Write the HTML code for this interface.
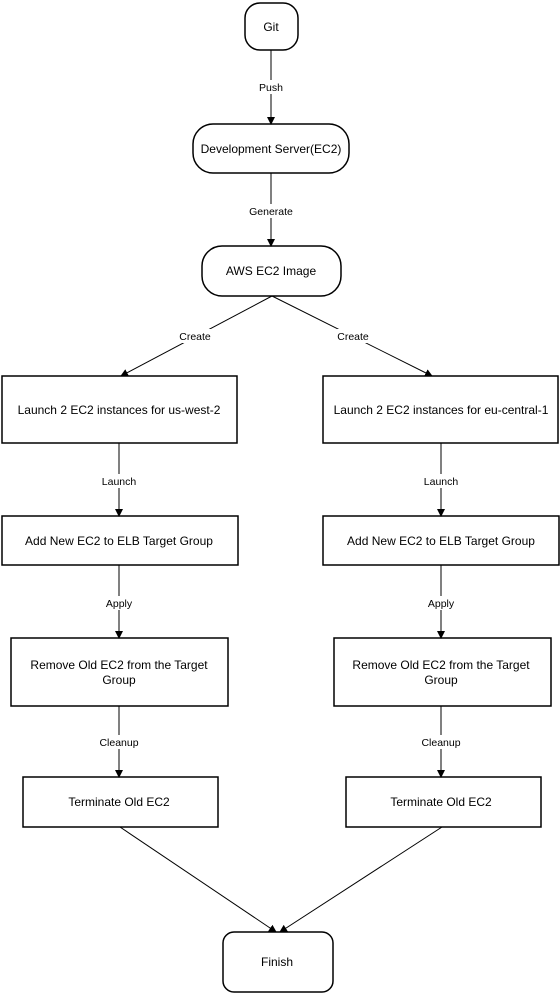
<!DOCTYPE html>
<html><head><meta charset="utf-8"><style>
html,body{margin:0;padding:0;background:#fff;}
svg{display:block;}
text{font-family:"Liberation Sans",Arial,sans-serif;fill:#000;}
.n{font-size:12px;}
.l{font-size:10.5px;}
</style></head><body>
<svg width="560" height="993" viewBox="0 0 560 993" xmlns="http://www.w3.org/2000/svg">
<defs><marker id="a" markerWidth="8" markerHeight="8" refX="7" refY="4" orient="auto" markerUnits="userSpaceOnUse"><path d="M0,0 L8,4 L0,8 z" fill="#000"/></marker></defs>
<g fill="#fff" stroke="#000" stroke-width="1.5">
<rect x="245" y="3" width="53" height="47" rx="15"/>
<rect x="193" y="124" width="156" height="49" rx="20"/>
<rect x="202" y="246" width="139" height="50" rx="20"/>
<rect x="2" y="376" width="235" height="67"/>
<rect x="323" y="376" width="235" height="67"/>
<rect x="2" y="516" width="236" height="49"/>
<rect x="323" y="516" width="236" height="49"/>
<rect x="11" y="638" width="217" height="68"/>
<rect x="334" y="638" width="217" height="68"/>
<rect x="23" y="777" width="195" height="50"/>
<rect x="346" y="777" width="195" height="50"/>
<rect x="223" y="932" width="110" height="60" rx="11"/>
</g>
<g stroke="#000" stroke-width="1" fill="none" marker-end="url(#a)">
<line x1="271" y1="50" x2="271" y2="124"/>
<line x1="271" y1="173" x2="271" y2="246"/>
<line x1="272" y1="296" x2="121" y2="376"/>
<line x1="272" y1="296" x2="432" y2="376"/>
<line x1="119" y1="443" x2="119" y2="516"/>
<line x1="441" y1="443" x2="441" y2="516"/>
<line x1="119" y1="565" x2="119" y2="638"/>
<line x1="441" y1="565" x2="441" y2="638"/>
<line x1="119" y1="706" x2="119" y2="777"/>
<line x1="441" y1="706" x2="441" y2="777"/>
<line x1="120" y1="827" x2="276" y2="932"/>
<line x1="442" y1="827" x2="280" y2="932"/>
</g>
<g fill="#fff">
<rect x="253" y="80" width="36" height="14"/>
<rect x="243" y="204" width="56" height="14"/>
<rect x="174" y="329" width="42" height="14"/>
<rect x="332" y="329" width="42" height="14"/>
<rect x="96" y="474" width="46" height="14"/>
<rect x="418" y="474" width="46" height="14"/>
<rect x="101" y="596" width="36" height="14"/>
<rect x="423" y="596" width="36" height="14"/>
<rect x="95" y="735" width="48" height="14"/>
<rect x="417" y="735" width="48" height="14"/>
</g>
<g class="n" text-anchor="middle">
<text x="271" y="31">Git</text>
<text x="271" y="153">Development Server(EC2)</text>
<text x="271" y="275">AWS EC2 Image</text>
<text x="119" y="414">Launch 2 EC2 instances for us-west-2</text>
<text x="441" y="414">Launch 2 EC2 instances for eu-central-1</text>
<text x="119" y="545">Add New EC2 to ELB Target Group</text>
<text x="441" y="545">Add New EC2 to ELB Target Group</text>
<text x="119" y="669">Remove Old EC2 from the Target</text>
<text x="119" y="684">Group</text>
<text x="441" y="669">Remove Old EC2 from the Target</text>
<text x="441" y="684">Group</text>
<text x="119" y="806">Terminate Old EC2</text>
<text x="441" y="806">Terminate Old EC2</text>
<text x="277" y="966">Finish</text>
</g>
<g class="l" text-anchor="middle">
<text x="271" y="91">Push</text>
<text x="271" y="215">Generate</text>
<text x="195" y="340">Create</text>
<text x="353" y="340">Create</text>
<text x="119" y="485">Launch</text>
<text x="441" y="485">Launch</text>
<text x="119" y="607">Apply</text>
<text x="441" y="607">Apply</text>
<text x="119" y="746">Cleanup</text>
<text x="441" y="746">Cleanup</text>
</g>
</svg>
</body></html>
